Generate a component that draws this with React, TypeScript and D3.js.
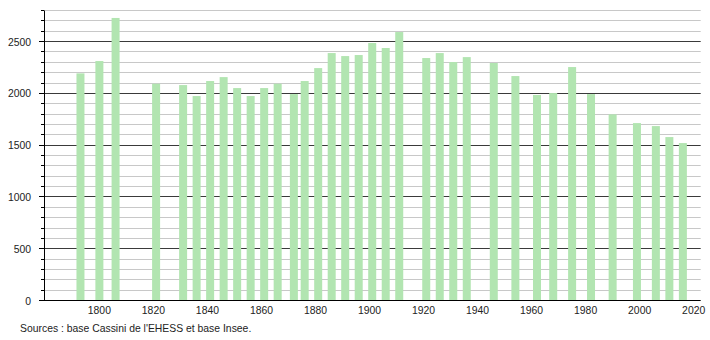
import React from "react";
import * as d3 from "d3";

const years = [1793, 1800, 1806, 1821, 1831, 1836, 1841, 1846, 1851, 1856, 1861, 1866, 1872, 1876, 1881, 1886, 1891, 1896, 1901, 1906, 1911, 1921, 1926, 1931, 1936, 1946, 1954, 1962, 1968, 1975, 1982, 1990, 1999, 2006, 2011, 2016];
const population = [2193, 2312, 2728, 2093, 2080, 1974, 2119, 2157, 2051, 1974, 2051, 2093, 1993, 2119, 2244, 2389, 2360, 2370, 2486, 2438, 2592, 2341, 2389, 2302, 2350, 2293, 2167, 1984, 2003, 2254, 1993, 1797, 1713, 1684, 1578, 1520];
const xTicks = [1800, 1820, 1840, 1860, 1880, 1900, 1920, 1940, 1960, 1980, 2000, 2020];
const yMajorTicks = [0, 500, 1000, 1500, 2000, 2500];
const yMinorTicks = d3.range(100, 2801, 100).filter((v) => v % 500 !== 0);
const sourceText = "Sources : base Cassini de l'EHESS et base Insee.";

const W = 710;
const H = 340;
const left = 44;
const right = 700.7;
const top = 10.5;
const bottom = 300.5;

export default function App() {
  const x = d3.scaleLinear().domain([1779.5, 2022.6]).range([left, right]);
  const y = d3.scaleLinear().domain([0, 2800]).range([bottom, top]);
  const crisp = (v: number) => Math.round(v - 0.5) + 0.5;
  const font = "'Liberation Sans', Arial, sans-serif";
  const barW = 8;
  const fs = 10.4;

  return (
    <svg
      width={W}
      height={H}
      style={{ position: "absolute", left: 0, top: 0 }}
      fontFamily={font}
    >
      <rect x={0} y={0} width={W} height={H} fill="#fff" />
      {yMinorTicks.map((v) => (
        <g key={"mi" + v}>
          <line x1={left} x2={right} y1={crisp(y(v))} y2={crisp(y(v))} stroke="#c8c8c8" strokeWidth={1} />
          <line x1={left - 3} x2={left} y1={crisp(y(v))} y2={crisp(y(v))} stroke="#000" strokeWidth={1} />
        </g>
      ))}
      {yMajorTicks.filter((v) => v > 0).map((v) => (
        <line key={"ma" + v} x1={left} x2={right} y1={crisp(y(v))} y2={crisp(y(v))} stroke="#3a3a3a" strokeWidth={1} />
      ))}
      {years.map((yr, i) => (
        <rect
          key={yr}
          x={x(yr) - barW / 2}
          y={y(population[i])}
          width={barW}
          height={y(0) - y(population[i])}
          fill="#b2e5b1"
        />
      ))}
      {yMajorTicks.map((v) => (
        <g key={"t" + v}>
          <line x1={left - 5} x2={left} y1={crisp(y(v))} y2={crisp(y(v))} stroke="#000" strokeWidth={1} />
          <text x={31} y={y(v) + 4} textAnchor="end" fontSize={fs} fill="#222">
            {v}
          </text>
        </g>
      ))}
      <line x1={crisp(left)} x2={crisp(left)} y1={top} y2={bottom} stroke="#000" strokeWidth={1} />
      <line x1={left - 5} x2={right} y1={crisp(y(0))} y2={crisp(y(0))} stroke="#000" strokeWidth={1} />
      {xTicks.map((t) => (
        <text key={"x" + t} x={x(t)} y={314} textAnchor="middle" fontSize={fs} fill="#222">
          {t}
        </text>
      ))}
      <text x={20} y={332} fontSize={fs} fill="#222">
        {sourceText}
      </text>
    </svg>
  );
}
